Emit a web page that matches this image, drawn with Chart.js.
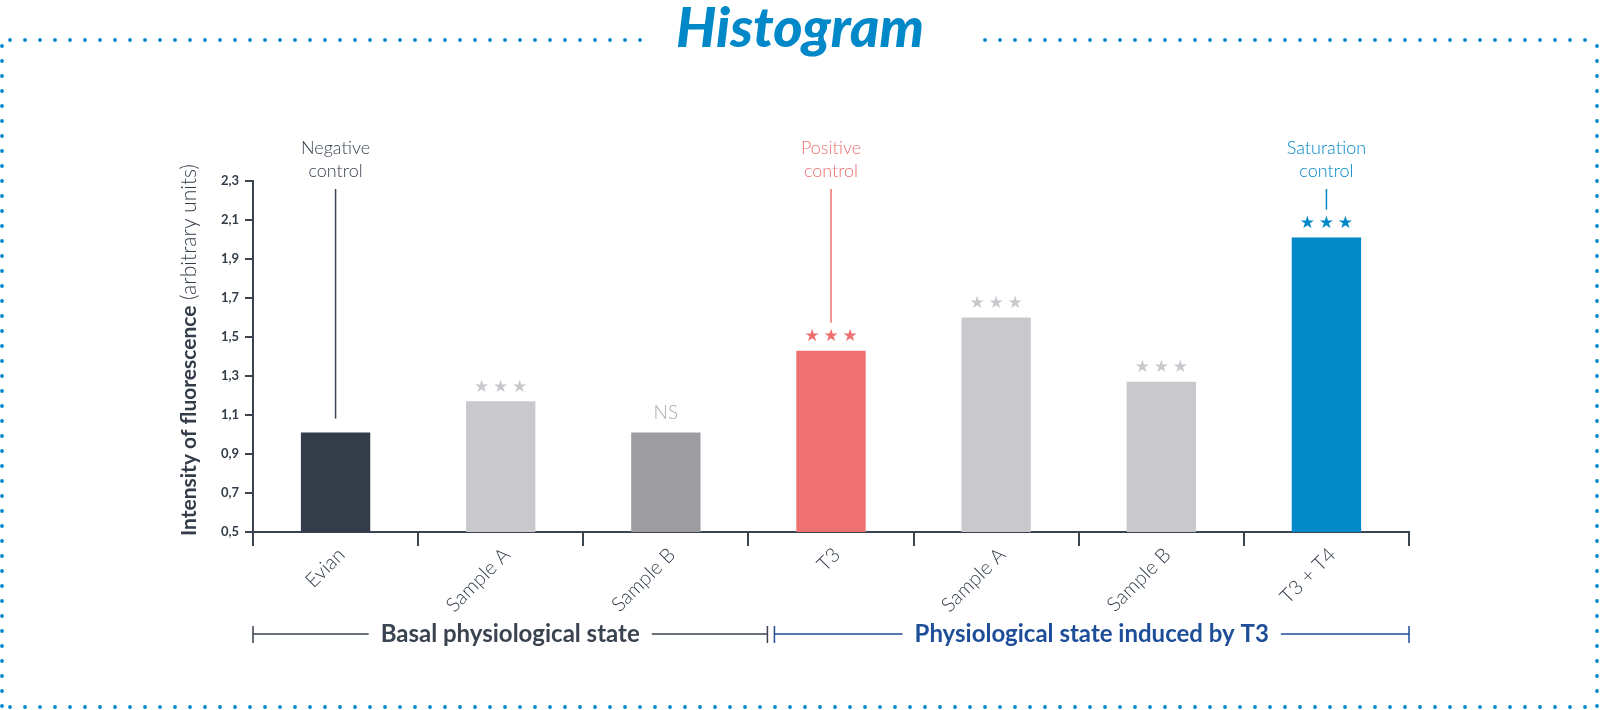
<!DOCTYPE html>
<html>
<head>
<meta charset="utf-8">
<title>Histogram</title>
<script src="https://cdn.jsdelivr.net/npm/chart.js@4"></script>
<style>
    html, body { margin: 0; padding: 0; background: #fff; }
    canvas { display: block; }
</style>
</head>
<body>
<canvas id="histogram" width="1600" height="710"></canvas>
<script>
(function () {
    'use strict';

    const categories = ['Evian', 'Sample A', 'Sample B', 'T3', 'Sample A', 'Sample B', 'T3 + T4'];
    const intensity = [1.01, 1.17, 1.01, 1.43, 1.60, 1.27, 2.01];
    const barColors = ['#333d4a', '#c9c8cd', '#9d9ca1', '#ee7070', '#c9c8cd', '#c9c8cd', '#0088c9'];
    const yTicks = [0.5, 0.7, 0.9, 1.1, 1.3, 1.5, 1.7, 1.9, 2.1, 2.3];

    // significance marks above bars
    const marks = ['', '★★★', 'NS', '★★★', '★★★', '★★★', '★★★'];
    const markColors = ['#c9c8cd', '#c9c8cd', '#a9a8ad', '#ee7070', '#c9c8cd', '#c9c8cd', '#0088c9'];

    // controls with their callout text
    const controlIndex = [0, 3, 6];
    const controlLabels = [['Negative', 'control'], ['Positive', 'control'], ['Saturation', 'control']];
    const controlColors = ['#3a4350', '#ee7070', '#0088c9'];

    // groups of categories under the axis
    const groupLabels = ['Basal physiological state', 'Physiological state induced by T3'];
    const groupRanges = [[0, 2], [3, 6]];
    const groupColors = ['#3a4350', '#1f4e99'];

    const axisColor = '#3a4350';
    const blue = '#0088c9';

    const decor = {
        id: 'decor',
        beforeDraw(chart) {
            const ctx = chart.ctx;
            ctx.save();
            ctx.fillStyle = '#fff';
            ctx.fillRect(0, 0, chart.width, chart.height);

            // dotted frame
            ctx.fillStyle = blue;
            const dot = function (x, y) {
                ctx.beginPath();
                ctx.arc(x, y, 1.9, 0, Math.PI * 2);
                ctx.fill();
            };
            for (let x = 10; x < 1598; x += 15) {
                if (x < 646 || x > 980) dot(x, 40);
                dot(x, 707);
            }
            for (let y = 46; y < 708; y += 15) {
                dot(2, y);
                dot(1597, y);
            }

            // title
            ctx.fillStyle = blue;
            ctx.font = 'italic 900 56px Lato';
            ctx.textAlign = 'center';
            ctx.textBaseline = 'alphabetic';
            ctx.fillText('Histogram', 800, 47);

            // y axis title, two weights
            const partA = 'Intensity of fluorescence';
            const partB = ' (arbitrary units)';
            ctx.translate(189, 350);
            ctx.rotate(-Math.PI / 2);
            ctx.textBaseline = 'middle';
            ctx.textAlign = 'left';
            ctx.font = 'bold 21px Lato';
            const wA = ctx.measureText(partA).width;
            ctx.font = '300 21px Lato';
            const wB = ctx.measureText(partB).width;
            const start = -(wA + wB) / 2;
            ctx.fillStyle = '#333d4a';
            ctx.font = 'bold 21px Lato';
            ctx.fillText(partA, start, 0);
            ctx.font = '300 21px Lato';
            ctx.fillText(partB, start + wA, 0);
            ctx.restore();
        },
        afterDatasetsDraw(chart) {
            const ctx = chart.ctx;
            const x = chart.scales.x;
            const y = chart.scales.y;
            ctx.save();
            ctx.textAlign = 'center';
            ctx.textBaseline = 'middle';

            // marks
            marks.forEach(function (m, i) {
                if (!m) return;
                const cx = x.getPixelForValue(i);
                const top = y.getPixelForValue(intensity[i]);
                ctx.fillStyle = markColors[i];
                if (m === 'NS') {
                    ctx.font = '300 19px Lato';
                    ctx.fillText(m, cx, top - 20);
                } else {
                    ctx.font = '17px "DejaVu Sans"';
                    Array.from(m).forEach(function (s, k) {
                        ctx.fillText(s, cx + (k - 1) * 19, top - 14);
                    });
                }
            });

            // control callouts
            controlIndex.forEach(function (idx, j) {
                const cx = x.getPixelForValue(idx);
                const top = y.getPixelForValue(intensity[idx]);
                ctx.fillStyle = controlColors[j];
                ctx.font = '300 18px Lato';
                ctx.fillText(controlLabels[j][0], cx, 148);
                ctx.fillText(controlLabels[j][1], cx, 171);
                const end = marks[idx] && idx !== 0 ? top - 28 : top - 14;
                ctx.strokeStyle = controlColors[j];
                ctx.lineWidth = 1.5;
                ctx.beginPath();
                ctx.moveTo(cx, 189);
                ctx.lineTo(cx, end);
                ctx.stroke();
            });

            // group brackets
            groupLabels.forEach(function (label, g) {
                let x0 = x.getPixelForValue(groupRanges[g][0] - 0.5);
                let x1 = x.getPixelForValue(groupRanges[g][1] + 0.5);
                if (g === 0) x1 += 19;
                if (g === 1) x0 += 26;
                const yy = 634;
                ctx.strokeStyle = groupColors[g];
                ctx.lineWidth = 1.5;
                ctx.beginPath();
                ctx.moveTo(x0, yy);
                ctx.lineTo(x1, yy);
                ctx.moveTo(x0, yy - 8);
                ctx.lineTo(x0, yy + 9);
                ctx.moveTo(x1, yy - 8);
                ctx.lineTo(x1, yy + 9);
                ctx.stroke();
                ctx.font = 'bold 24px Lato';
                const w = ctx.measureText(label).width;
                const cx = (x0 + x1) / 2;
                ctx.fillStyle = '#fff';
                ctx.fillRect(cx - w / 2 - 12, yy - 16, w + 24, 32);
                ctx.fillStyle = groupColors[g];
                ctx.fillText(label, cx, yy);
            });
            ctx.restore();
        }
    };

    new Chart(document.getElementById('histogram'), {
        type: 'bar',
        data: {
            labels: categories,
            datasets: [{
                label: 'Intensity of fluorescence',
                data: intensity,
                backgroundColor: barColors,
                borderWidth: 0,
                barPercentage: 0.42,
                categoryPercentage: 1
            }]
        },
        options: {
            responsive: false,
            animation: false,
            devicePixelRatio: 1,
            layout: {
                padding: { top: 181, right: 191, left: 0, bottom: 0 }
            },
            scales: {
                x: {
                    afterFit: function (scale) { scale.height = 178; },
                    border: { width: 2, color: axisColor },
                    grid: {
                        drawOnChartArea: false,
                        offset: true,
                        tickLength: 14,
                        lineWidth: 2,
                        color: axisColor
                    },
                    ticks: {
                        minRotation: 45,
                        maxRotation: 45,
                        padding: -3,
                        labelOffset: 6,
                        color: '#333d4a',
                        font: { family: 'Lato', size: 20, weight: '300' }
                    }
                },
                y: {
                    min: 0.5,
                    max: 2.3,
                    afterFit: function (scale) { scale.width = 253; },
                    afterBuildTicks: function (scale) {
                        scale.ticks = yTicks.map(function (v) { return { value: v }; });
                    },
                    border: { width: 2, color: axisColor },
                    grid: {
                        drawOnChartArea: false,
                        tickLength: 8,
                        lineWidth: 2,
                        color: axisColor
                    },
                    ticks: {
                        padding: 6,
                        color: '#333d4a',
                        font: { family: 'Lato', size: 13, weight: 'bold' },
                        callback: function (value) {
                            return value.toFixed(1).replace('.', ',');
                        }
                    }
                }
            },
            plugins: {
                legend: { display: false },
                tooltip: { enabled: false }
            }
        },
        plugins: [decor]
    });

})();
</script>
</body>
</html>
